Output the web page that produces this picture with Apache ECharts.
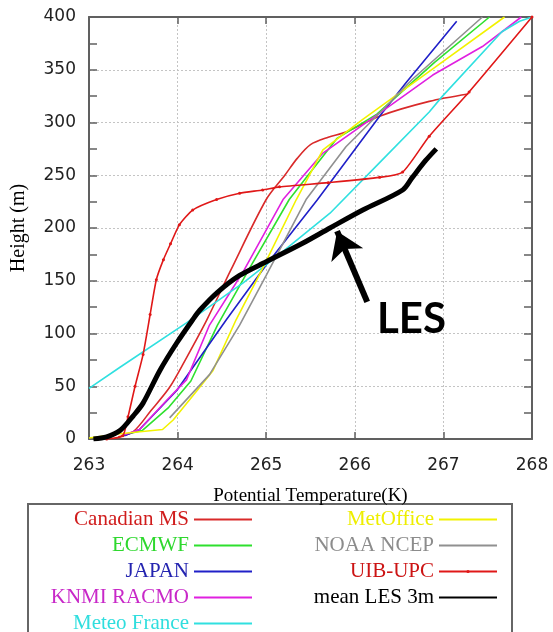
<!DOCTYPE html>
<html>
<head>
<meta charset="utf-8">
<script src="https://cdn.jsdelivr.net/npm/echarts@6/dist/echarts.min.js"></script>
<style>
html,body{margin:0;padding:0;background:#fff}
#chart{width:553px;height:632px}
</style>
</head>
<body>
<div id="chart"></div>
<script>
// potential temperature (K), height (m)
var canadianMS = [[263.33,2],[263.5,7],[263.7,27],[263.91,49],[264.1,77],[264.33,113],[264.6,160],[265.0,227],[265.21,250],[265.35,266],[265.5,279],[265.7,286],[265.9,291],[266.28,306],[266.84,320],[267.28,327]];
var ecmwf = [[263.4,4],[263.6,8],[263.9,30],[264.15,55],[264.45,108],[264.8,160],[265.26,227],[265.49,252],[265.8,285],[266.25,308],[266.9,357],[267.52,400]];
var japan = [[263.4,3],[263.57,9],[263.99,46],[264.55,113],[265.0,165],[265.58,227],[266.28,306],[266.58,338],[267.15,396]];
var knmi = [[263.4,4],[263.57,9],[263.88,37],[264.1,56],[264.36,108],[264.75,160],[265.19,227],[265.64,271],[266.3,310],[266.88,345],[267.44,372],[267.88,400]];
var meteoFrance = [[263,48],[263.35,68],[264.1,110],[264.74,148],[265.12,173],[265.72,214],[266.28,262],[266.84,310],[266.99,325],[267.66,386],[267.86,396],[268,400]];
var metOffice = [[263.0,1],[263.35,5],[263.83,9],[263.95,18],[264.22,46],[264.4,65],[264.66,113],[264.95,160],[265.34,227],[265.64,274],[266.09,303],[266.9,352],[267.69,400]];
var noaa = [[263.91,20],[264.36,61],[264.7,108],[265.0,155],[265.45,227],[265.9,277],[266.28,309],[266.65,341],[267.44,400]];
var uibUpc = [[263.2,0],[263.38,3],[263.44,21],[263.52,50],[263.61,80],[263.69,118],[263.76,151],[263.84,170],[263.92,185],[264.02,203],[264.17,217],[264.44,227],[264.7,233],[264.96,236],[265.15,239],[265.7,243],[266.28,248],[266.54,253],[266.84,287],[267.29,329],[268,400]];
var meanLES = [[263.05,0],[263.2,2],[263.35,8],[263.5,22],[263.61,34],[263.8,65],[263.99,91],[264.17,113],[264.25,122],[264.45,139],[264.7,155],[265.0,168],[265.4,185],[265.72,200],[266.09,217],[266.54,236],[266.65,248],[266.8,264],[266.92,275]];

var names = ['Canadian MS','ECMWF','JAPAN','KNMI RACMO','Meteo France','MetOffice','NOAA NCEP','UIB-UPC','mean LES 3m'];
var colors = ['#d92a2a','#2ee02e','#2020c8','#e020e0','#30e0e0','#f2f200','#909090','#e01818','#000000'];
var textColors = ['#d01c1c','#2ed82e','#2424b0','#c828c8','#30dede','#eeee00','#8c8c8c','#cc1414','#000000'];
var allData = [canadianMS, ecmwf, japan, knmi, meteoFrance, metOffice, noaa, uibUpc, meanLES];

// arrow + label in data coords
var arrowFrom = [266.14,130], arrowTo = [265.8,197];
var lesLabelAt = [266.64,113];

var chart = echarts.init(document.getElementById('chart'));

var series = names.map(function (n, i) {
    var s = {
        name: n,
        type: 'line',
        data: allData[i],
        showSymbol: false,
        symbol: 'circle',
        color: colors[i],
        lineStyle: {width: 1.6, color: colors[i]},
        silent: true,
        z: 2
    };
    if (n == 'UIB-UPC') {
        s.showSymbol = true;
        s.symbolSize = 3;
        s.smooth = 0.2;
    }
    if (n == 'Canadian MS') s.smooth = 0.3;
    if (n == 'mean LES 3m') {
        s.lineStyle.width = 5;
        s.smooth = 0.3;
        s.z = 5;
        s.markLine = {
            silent: true,
            symbol: ['none','arrow'],
            symbolSize: [26,26],
            label: {show: false},
            lineStyle: {color: '#000', width: 6, type: 'solid'},
            data: [[{coord: arrowFrom}, {coord: arrowTo}]]
        };
    }
    return s;
});

function legendItems(list) {
    return list.map(function (n) {
        var i = names.indexOf(n);
        return {
            name: n,
            textStyle: {color: textColors[i]},
            itemStyle: {opacity: n == 'UIB-UPC' ? 1 : 0}
        };
    });
}

var legendBase = {
    orient: 'vertical',
    align: 'right',
    top: 509,
    height: 200,
    padding: 0,
    itemWidth: 58,
    itemHeight: 4,
    itemGap: 5,
    selectedMode: false,
    itemStyle: {opacity: 0},
    textStyle: {fontFamily: 'Liberation Serif', fontSize: 21, lineHeight: 20}
};

var axisLineStyle = {color: '#606060', width: 2};

var option = {
    animation: false,
    backgroundColor: '#fff',
    grid: {left: 89, right: 21, top: 17, bottom: 193},
    xAxis: [{
        type: 'value', min: 263, max: 268, interval: 1,
        name: 'Potential Temperature(K)',
        nameLocation: 'middle', nameGap: 48,
        nameTextStyle: {fontFamily: 'Liberation Serif', fontSize: 19, color: '#000'},
        axisLine: {show: true, onZero: false, lineStyle: axisLineStyle},
        axisTick: {show: true, inside: true, length: 7, lineStyle: {color: '#606060', width: 1.5}},
        axisLabel: {margin: 18, fontFamily: 'DejaVu Sans', fontSize: 17, color: '#222'},
        splitLine: {show: true, lineStyle: {color: '#c4c4c4', type: [2,2], width: 1}}
    }, {
        type: 'value', min: 263, max: 268, interval: 1, position: 'top',
        axisLine: {show: true, onZero: false, lineStyle: axisLineStyle},
        axisTick: {show: true, inside: true, length: 7, lineStyle: {color: '#606060', width: 1.5}},
        axisLabel: {show: false},
        splitLine: {show: false}
    }],
    yAxis: [{
        type: 'value', min: 0, max: 400, interval: 50,
        name: 'Height (m)',
        nameLocation: 'middle', nameGap: 60, nameRotate: 90,
        nameTextStyle: {fontFamily: 'Liberation Serif', fontSize: 20, color: '#000'},
        axisLine: {show: true, onZero: false, lineStyle: axisLineStyle},
        axisTick: {show: true, inside: true, length: 8, lineStyle: {color: '#606060', width: 1.5}},
        minorTick: {show: true, splitNumber: 2, length: 8, lineStyle: {color: '#606060', width: 1.5}},
        axisLabel: {margin: 13, fontFamily: 'DejaVu Sans', fontSize: 17, color: '#222'},
        splitLine: {show: true, lineStyle: {color: '#c4c4c4', type: [2,2], width: 1}}
    }, {
        type: 'value', min: 0, max: 400, interval: 50, position: 'right',
        axisLine: {show: true, onZero: false, lineStyle: axisLineStyle},
        axisTick: {show: true, inside: true, length: 8, lineStyle: {color: '#606060', width: 1.5}},
        minorTick: {show: true, splitNumber: 2, length: 8, lineStyle: {color: '#606060', width: 1.5}},
        axisLabel: {show: false},
        splitLine: {show: false}
    }],
    legend: [
        Object.assign({}, legendBase, {right: 300, data: legendItems(names.slice(0,5))}),
        Object.assign({}, legendBase, {right: 55, data: legendItems(names.slice(5))})
    ],
    series: series
};

chart.setOption(option);

var p = chart.convertToPixel({gridIndex: 0}, lesLabelAt);
chart.setOption({
    graphic: [{
        type: 'rect',
        shape: {x: 28, y: 504, width: 484, height: 150},
        style: {fill: 'none', stroke: '#666', lineWidth: 2},
        silent: true
    }, {
        type: 'text',
        x: p[0], y: p[1],
        style: {
            text: 'LES',
            fontFamily: 'Lato',
            fontWeight: 'bold',
            fontSize: 42,
            fill: '#000',
            align: 'center',
            verticalAlign: 'middle'
        },
        silent: true,
        z: 10
    }]
});
</script>
</body>
</html>
